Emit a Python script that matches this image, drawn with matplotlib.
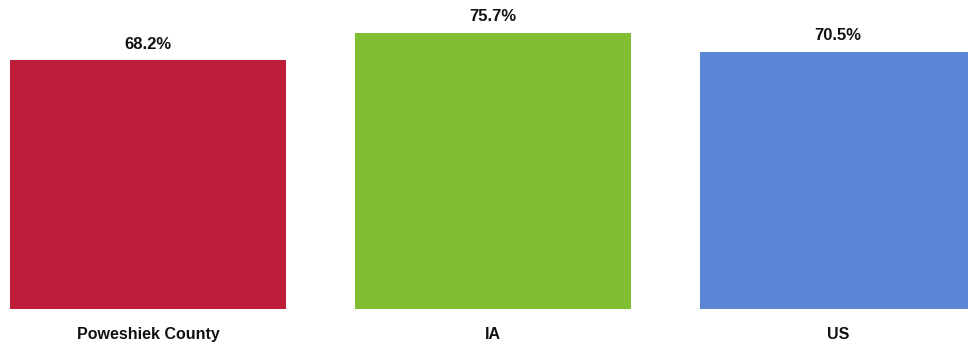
import matplotlib
matplotlib.use("Agg")
import matplotlib.pyplot as plt
from matplotlib import font_manager

categories = ["Poweshiek County", "IA", "US"]
values = [68.2, 75.7, 70.5]
colors = ["#BE1E3A", "#80BF33", "#5B86D6"]

names = {f.name for f in font_manager.fontManager.ttflist}
fam = ["Liberation Sans Narrow", "Liberation Sans", "DejaVu Sans"] if "Liberation Sans Narrow" in names else ["Liberation Sans", "DejaVu Sans"]
plt.rcParams['font.family'] = fam

W, H = 968, 346
fig = plt.figure(figsize=(W/100, H/100), dpi=100)
bottom_px = 308.7
ax = fig.add_axes([0, (H - bottom_px)/H, 1, bottom_px/H])
ppu = 3.647
x = list(range(len(categories)))
ax.bar(x, values, width=0.8, color=colors)
ax.set_xlim((0-148)/345, (968-148)/345)
ax.set_ylim(0, bottom_px/ppu)
for xi, v in zip(x, values):
    ax.annotate(f"{v}%", (xi, v), xytext=(0, 6), textcoords="offset points",
                ha="center", va="bottom", fontsize=12, fontweight="bold", color="#111111")
ax.set_xticks(x)
ax.set_xticklabels(categories, fontsize=11.5, fontweight="bold", color="#111111")
ax.tick_params(axis="x", length=0, pad=13)
ax.set_yticks([])
for s in ax.spines.values():
    s.set_visible(False)
fig.savefig("out.png", dpi=100)
